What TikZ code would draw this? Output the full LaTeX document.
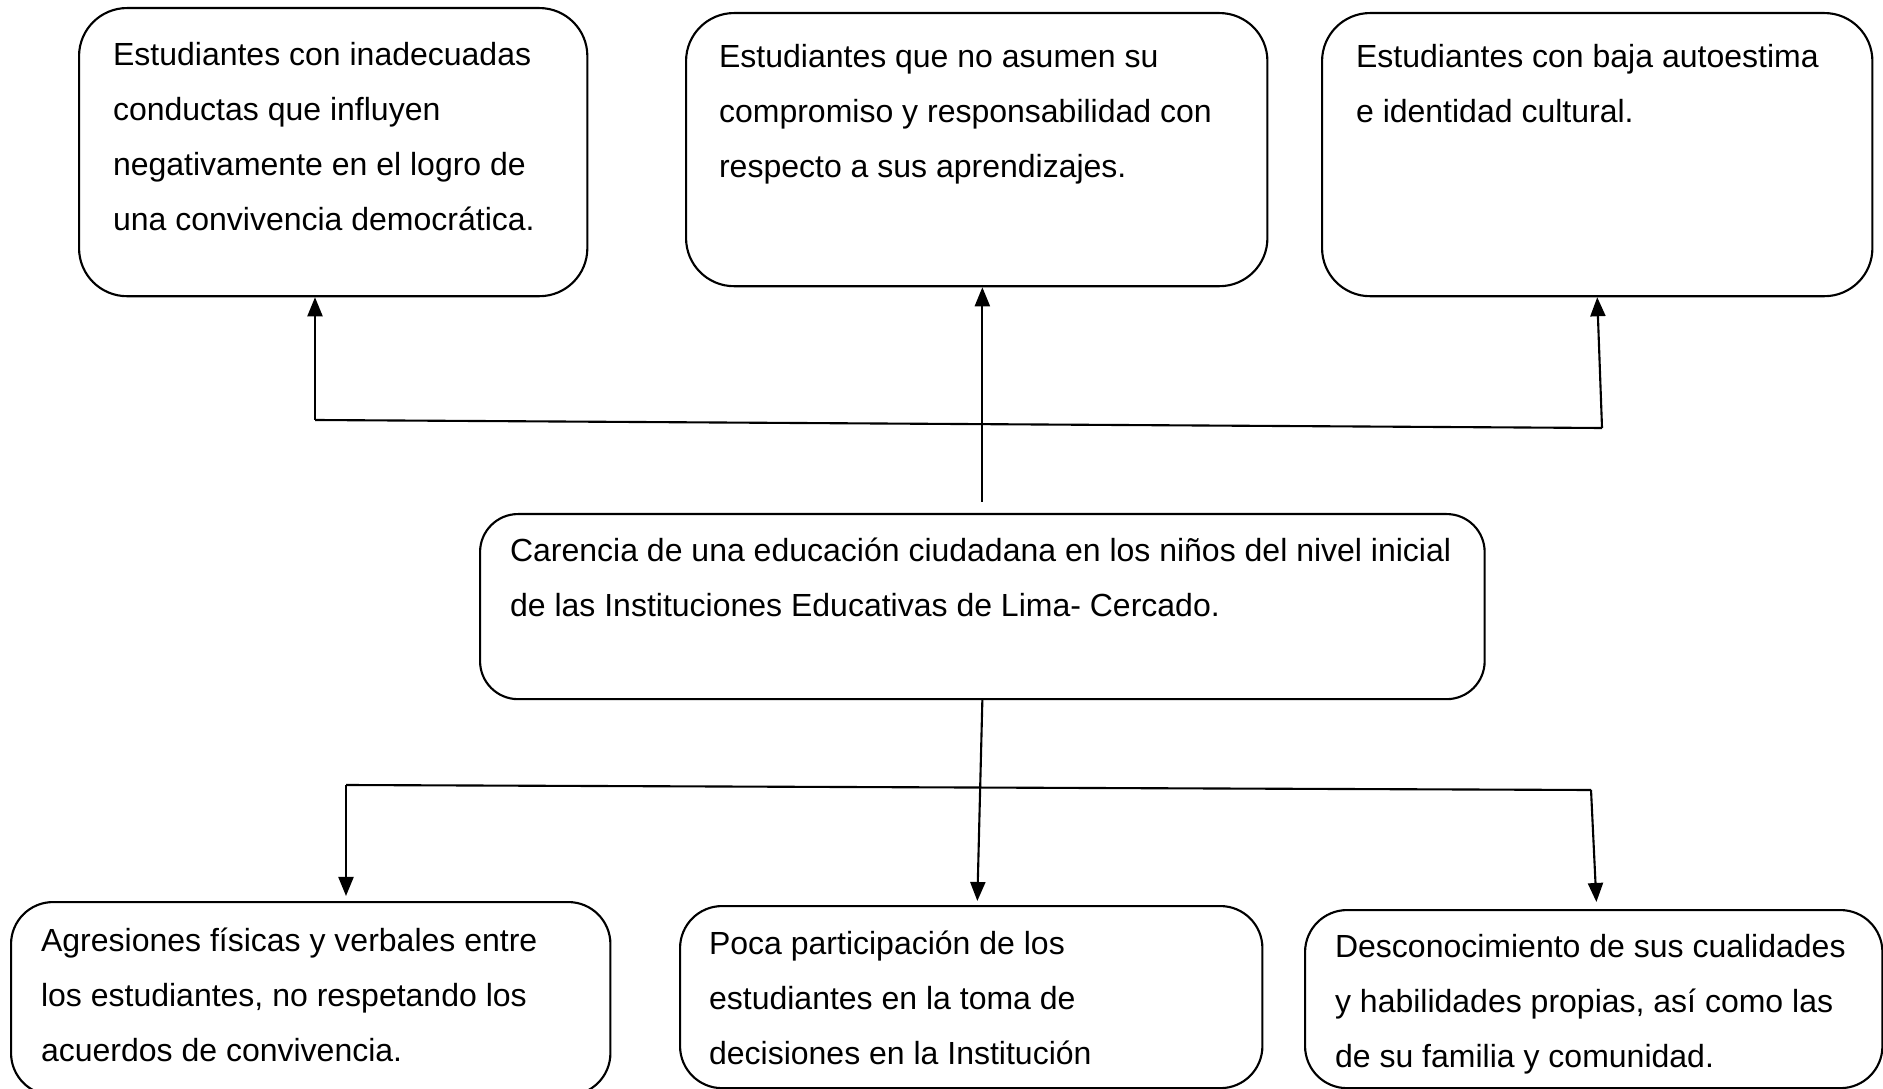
\documentclass[tikz,border=0pt]{standalone}
\usepackage{fontspec}
\setmainfont{Liberation Sans}
\usetikzlibrary{arrows.meta,calc}
\newcommand{\bxt}[3]{\parbox[c][#2][t]{#1}{\raggedright #3}}
\begin{document}
\begin{tikzpicture}[x=0.01cm,y=-0.01cm,
  box/.style={draw, line width=0.6pt, anchor=north west, rounded corners=0.48cm,
    font=\fontsize{9.1pt}{15.65pt}\selectfont},
  conn/.style={line width=0.6pt},
  arr/.style={conn, -{Triangle[length=0.19cm,width=0.15cm]}}]
\fill[white] (0,0) rectangle (1883,1089);
\useasboundingbox (0,0) rectangle (1883,1089);
% top row
\node[box, inner xsep=0.34cm, inner ysep=0.34cm] (tl) at (78,7)
  {\bxt{4.40cm}{2.20cm}{\mbox{Estudiantes con inadecuadas}\\\mbox{conductas que influyen}\\\mbox{negativamente en el logro de}\\\mbox{una convivencia democrática.}}};
\node[box, inner xsep=0.33cm, inner ysep=0.31cm] (tm) at (685,12)
  {\bxt{5.15cm}{2.11cm}{\mbox{Estudiantes que no asumen su}\\\mbox{compromiso y responsabilidad con}\\\mbox{respecto a sus aprendizajes.}}};
\node[box, inner xsep=0.34cm, inner ysep=0.31cm] (tr) at (1321,12)
  {\bxt{4.82cm}{2.21cm}{\mbox{Estudiantes con baja autoestima}\\\mbox{e identidad cultural.}}};
% middle
\node[box, rounded corners=0.38cm, inner xsep=0.30cm, inner ysep=0.24cm] (mid) at (479,513)
  {\bxt{9.44cm}{1.37cm}{\mbox{Carencia de una educación ciudadana en los niños del nivel inicial}\\\mbox{de las Instituciones Educativas de Lima- Cercado.}}};
% bottom row
\node[box, rounded corners=0.42cm, inner xsep=0.30cm, inner ysep=0.26cm] (bl) at (10,901)
  {\bxt{5.39cm}{1.41cm}{\mbox{Agresiones físicas y verbales entre}\\\mbox{los estudiantes, no respetando los}\\\mbox{acuerdos de convivencia.}}};
\node[box, rounded corners=0.42cm, inner xsep=0.29cm, inner ysep=0.25cm] (bm) at (679,905)
  {\bxt{5.24cm}{1.32cm}{\mbox{Poca participación de los}\\\mbox{estudiantes en la toma de}\\\mbox{decisiones en la Institución}}};
\node[box, rounded corners=0.42cm, inner xsep=0.30cm, inner ysep=0.24cm] (br) at (1304,909)
  {\bxt{5.17cm}{1.30cm}{\mbox{Desconocimiento de sus cualidades}\\\mbox{y habilidades propias, así como las}\\\mbox{de su familia y comunidad.}}};
% connectors top
\coordinate (a1) at (315,420);
\coordinate (a3) at (1602,428);
\draw[conn] (a1) -- (a3);
\draw[arr] (a1) -- (tl.south -| a1);
\draw[arr, shorten <=0.11cm] (mid.north) -- (tm.south -| mid.north);
\draw[arr] (a3) -- (tr.south);
% connectors bottom
\coordinate (b1) at (346,785);
\coordinate (b2) at (1591,790);
\draw[conn] (b1) -- (b2);
\draw[arr, shorten >=0.04cm] (mid.south) -- ($(bm.north)+(6,0)$);
\draw[arr, shorten >=0.05cm] (b1) -- (bl.north -| b1);
\draw[arr, shorten >=0.07cm] (b2) -- ($(br.north)+(3,0)$);
\end{tikzpicture}
\end{document}
